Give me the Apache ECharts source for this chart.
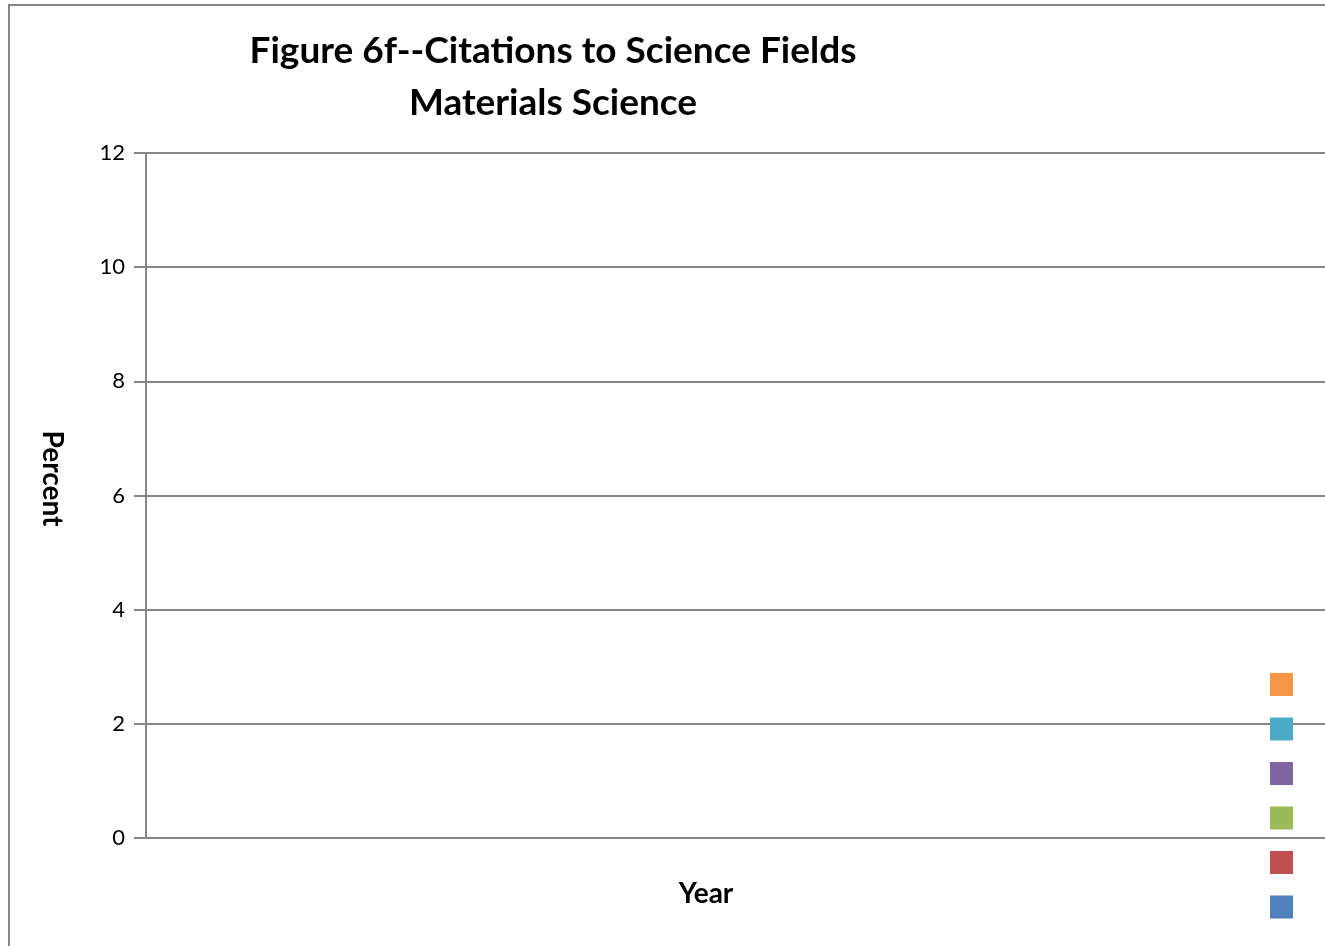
<!DOCTYPE html>
<html>
<head>
<meta charset="utf-8">
<script src="https://cdn.jsdelivr.net/npm/echarts@6/dist/echarts.min.js"></script>
<style>
  html, body { margin: 0; padding: 0; background: #fff; overflow: hidden; }
  #chart {
    position: absolute; left: 8px; top: 4px;
    width: 1360px; height: 980px;
    border: 2px solid #868686;
  }
</style>
</head>
<body>
<div id="chart"></div>
<script>
// the source chart has no plotted data, only the empty axes and legend keys
var years = [];
var seriesNames = ['Series1', 'Series2', 'Series3', 'Series4', 'Series5', 'Series6'];
var seriesColors = ['#4F81BD', '#C0504D', '#9BBB59', '#8064A2', '#4BACC6', '#F79646'];
var seriesValues = [[], [], [], [], [], []];
var yTicks = [0, 2, 4, 6, 8, 10, 12];

var axisGray = '#868686';

function buildSeries() {
	var list = [];
	for (var i = 0; i < seriesNames.length; i++) {
		list.push({
			name: seriesNames[i],
			type: 'line',
			data: seriesValues[i],
			itemStyle: { color: seriesColors[i] },
			lineStyle: { color: seriesColors[i], width: 3 }
		});
	}
	return list;
}

var myChart = echarts.init(document.getElementById('chart'));
var option = {
	backgroundColor: '#fff',
	animation: false,
	title: {
		text: 'Figure 6f--Citations to Science Fields\nMaterials Science',
		left: 538,
		top: 14,
		textAlign: 'center',
		textStyle: {
			fontFamily: 'Lato',
			fontWeight: 'bold',
			fontSize: 37,
			lineHeight: 52,
			color: '#000'
		}
	},
	legend: {
		orient: 'vertical',
		left: 1255,
		top: 662,
		icon: 'rect',
		itemWidth: 23,
		itemHeight: 23,
		itemGap: 21.5,
		data: seriesNames.slice().reverse(),
		formatter: function () { return ''; },
		selectedMode: false
	},
	grid: {
		left: 136,
		top: 147,
		height: 685,
		width: 1200,
		containLabel: false,
		outerBoundsMode: 'none'
	},
	xAxis: {
		type: 'category',
		data: years,
		name: 'Year',
		nameLocation: 'middle',
		nameGap: 42,
		nameTextStyle: {
			fontFamily: 'Lato',
			fontWeight: 'bold',
			fontSize: 28,
			color: '#000',
			padding: [0, 80, 0, 0]
		},
		axisLine: { show: true, lineStyle: { color: axisGray, width: 2 } },
		axisTick: { show: true, length: 11, lineStyle: { color: axisGray, width: 2 } },
		axisLabel: { show: false },
		splitLine: { show: false }
	},
	yAxis: {
		type: 'value',
		min: yTicks[0],
		max: yTicks[yTicks.length - 1],
		interval: 2,
		name: 'Percent',
		nameLocation: 'middle',
		nameGap: 80,
		nameRotate: -90,
		nameTextStyle: {
			fontFamily: 'Lato',
			fontWeight: 'bold',
			fontSize: 28,
			color: '#000',
			padding: [0, 34, 0, 0]
		},
		axisLine: { show: true, lineStyle: { color: axisGray, width: 2 } },
		axisTick: { show: true, length: 12, lineStyle: { color: axisGray, width: 2 } },
		axisLabel: {
			fontFamily: 'Lato',
			fontSize: 22,
			color: '#000',
			margin: 21
		},
		splitLine: { show: true, lineStyle: { color: axisGray, width: 2 } }
	},
	series: buildSeries()
};

myChart.setOption(option);
window.addEventListener('resize', function () {
	myChart.resize();
});
</script>
</body>
</html>
